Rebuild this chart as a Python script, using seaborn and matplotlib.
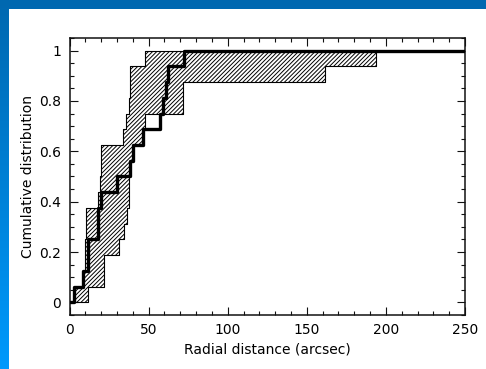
import numpy as np
import matplotlib
matplotlib.use("Agg")
import matplotlib.pyplot as plt
import seaborn as sns
from matplotlib.patches import Rectangle
from matplotlib.ticker import MultipleLocator, FuncFormatter
from matplotlib.colors import LinearSegmentedColormap

# ---- data ----
# observed cumulative distribution (step positions, values after each step)
obs_x = [0, 2.9, 8.4, 11.8, 17.9, 20.0, 30.3, 38.3, 40.4, 46.7, 57.2, 58.9, 60.8, 62.5, 72.4, 250]
obs_y = [0, 0.0625, 0.125, 0.25, 0.375, 0.4375, 0.5, 0.5625, 0.625, 0.6875, 0.75, 0.8125, 0.875, 0.9375, 1.0, 1.0]

# upper envelope of the hatched band
up_x = [2.9, 8.4, 9.5, 10.3, 18.3, 19.0, 20.0, 34.1, 35.8, 37.5, 38.3, 47.8]
up_y = [0.0625, 0.125, 0.25, 0.375, 0.4375, 0.5, 0.625, 0.6875, 0.75, 0.8125, 0.9375, 1.0]

# lower envelope of the hatched band
lo_x = [2.9, 12.0, 21.5, 31.6, 34.3, 36.3, 37.9, 38.5, 40.4, 46.7, 47.8, 71.5, 161.4, 193.6]
lo_y = [0.0, 0.0625, 0.1875, 0.25, 0.3125, 0.375, 0.5, 0.5625, 0.625, 0.6875, 0.75, 0.875, 0.9375, 1.0]

x_ticks = [0, 50, 100, 150, 200, 250]
y_ticks = [0, 0.2, 0.4, 0.6, 0.8, 1.0]

sns.set_style("ticks")
plt.rcParams['font.family'] = ['DejaVu Sans']
plt.rcParams['hatch.linewidth'] = 0.7

fig = plt.figure(figsize=(4.86, 3.69), dpi=100)

# slide background: blue gradient frame with a white panel
bg = fig.add_axes([0, 0, 1, 1], zorder=-10)
bg.set_axis_off()
grad = np.linspace(0, 1, 256).reshape(-1, 1)
cmap = LinearSegmentedColormap.from_list("slide", ["#0068b0", "#0099fc"])
bg.imshow(grad, aspect='auto', cmap=cmap, extent=[0, 1, 0, 1], origin='upper')
bg.add_patch(Rectangle((9 / 486, 0), 1, 1 - 9 / 369, transform=bg.transAxes,
                       facecolor='white', edgecolor='none'))
bg.set_xlim(0, 1)
bg.set_ylim(0, 1)

ax = fig.add_axes([69.5 / 486, 1 - 315 / 369, (465 - 69.5) / 486, (315 - 38) / 369])
ax.set_facecolor('white')

# hatched band
ux = np.array(up_x); uy = np.array(up_y)
lx = np.array(lo_x); ly = np.array(lo_y)
grid = np.unique(np.concatenate([ux, lx]))
U = uy[np.clip(np.searchsorted(ux, grid, side='right') - 1, 0, None)]
L = ly[np.clip(np.searchsorted(lx, grid, side='right') - 1, 0, None)]
ax.fill_between(grid, L, U, step='post', facecolor='none', edgecolor='black',
                hatch='////////', linewidth=0.8, zorder=2)

# observed cumulative distribution
sns.lineplot(x=obs_x, y=obs_y, drawstyle='steps-post', estimator=None, sort=False,
             color='black', linewidth=2.4, ax=ax, zorder=3)

ax.set_xlim(0, 250)
ax.set_ylim(-0.05, 1.05)
ax.set_xticks(x_ticks)
ax.set_yticks(y_ticks)
ax.xaxis.set_minor_locator(MultipleLocator(10))
ax.yaxis.set_minor_locator(MultipleLocator(0.05))
ax.yaxis.set_major_formatter(FuncFormatter(lambda v, p: f"{v:g}"))
ax.tick_params(which='both', direction='in', top=True, right=True, width=0.8,
               color='#111111', labelsize=10, labelcolor='#000000')
ax.tick_params(which='major', length=6, pad=6)
ax.tick_params(which='minor', length=3)
for s in ax.spines.values():
    s.set_linewidth(1.1)
    s.set_color('#111111')
ax.set_xlabel("Radial distance (arcsec)", fontsize=10, labelpad=4, color='#000000')
ax.set_ylabel("Cumulative distribution", fontsize=10, labelpad=3, color='#000000')

fig.savefig("out.png", dpi=100)
